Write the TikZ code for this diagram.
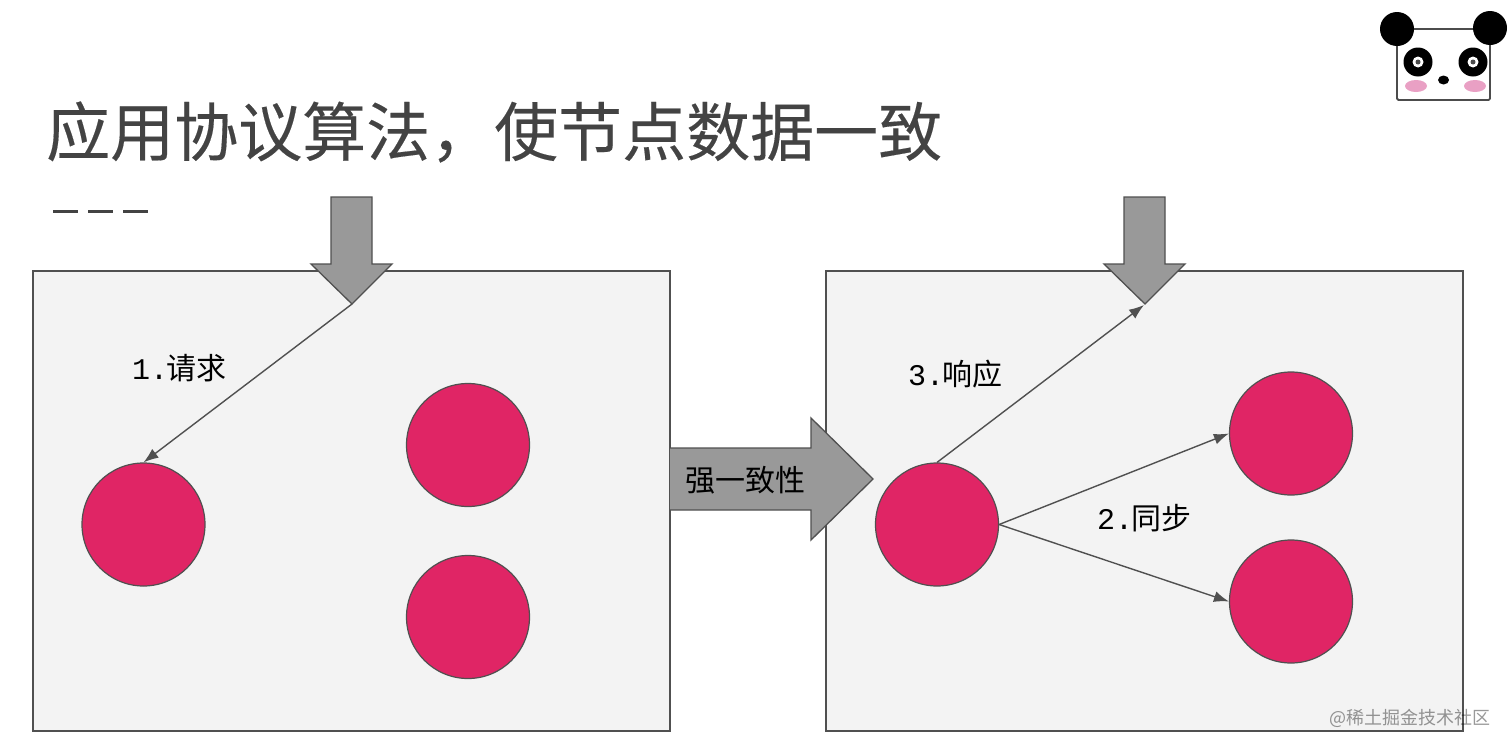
\documentclass[tikz,border=0pt]{standalone}
\usepackage{fontspec}
\setmainfont{Noto Sans CJK SC}
\newfontfamily\cjkfont{Noto Sans CJK SC}
\newfontfamily\titlefont[FakeBold=0.25]{Noto Sans CJK SC}
\setmonofont{Liberation Mono}
\usetikzlibrary{arrows.meta}
\definecolor{nodered}{HTML}{E02565}
\definecolor{panel}{HTML}{F3F3F3}
\definecolor{edgegray}{HTML}{505050}
\definecolor{arrowgray}{HTML}{999999}
\definecolor{titlegray}{HTML}{434343}
\definecolor{cheek}{HTML}{E9A0C4}
\tikzset{
  panelbox/.style={draw=edgegray,fill=panel,line width=1.3pt},
  fatarrow/.style={draw=edgegray,fill=arrowgray,line width=1.3pt,line join=miter},
  peer/.style={circle,draw=edgegray,fill=nodered,line width=1.2pt,minimum size=123pt,inner sep=0pt},
  link/.style={draw=edgegray,line width=1.4pt,-{Latex[length=15pt,width=11pt]}},
  steplabel/.style={inner sep=0pt,font=\fontsize{30pt}{32pt}\selectfont,text=black},
}
\newcommand{\fatdown}[1]{%
  \draw[fatarrow] (#1-21,197) -- (#1+20,197) -- (#1+20,264) -- (#1+40,264) -- (#1,304) -- (#1-41,264) -- (#1-21,264) -- cycle;}
\newcommand{\stepword}[2]{{\ttfamily #1}\kern-2pt{\cjkfont #2}}
\begin{document}
\begin{tikzpicture}[x=1pt,y=-1pt]
\useasboundingbox (0,0) rectangle (1512,750);
\fill[white] (0,0) rectangle (1512,750);
% title
\node[anchor=west,inner sep=0pt,text=titlegray,font=\titlefont\fontsize{64pt}{70pt}\selectfont] (title) at (46,132) {应用协议算法，使节点数据一致};
\foreach \xa in {53,88,123}
  \draw[titlegray,line width=3pt] (\xa,211) -- (\xa+25,211);
% panels
\draw[panelbox] (33,271) rectangle (670,731);
\draw[panelbox] (826,271) rectangle (1463,731);
% arrows
\fatdown{352}
\fatdown{1145}
\draw[fatarrow] (670,448) -- (811,448) -- (811,418) -- (873,479) -- (811,540) -- (811,510) -- (670,510);
\node[inner sep=0pt,font=\fontsize{30pt}{32pt}\selectfont,text=black] (strong) at (745,480) {强一致性};
\coordinate (tipL) at (352,304);
\coordinate (tipR) at (1144,305);
% peers
\node[peer] (a1) at (143.5,524.5) {};
\node[peer] (a2) at (468,445) {};
\node[peer] (a3) at (468,617) {};
\node[peer] (b1) at (937,524.5) {};
\node[peer] (b2) at (1291,433.5) {};
\node[peer] (b3) at (1291,601.5) {};
% links
\draw[link] (tipL) -- (a1.north);
\draw[link] (b1.north) -- (tipR);
\draw[link] (b1.east) -- (b2.west);
\draw[link] (b1.east) -- (b3.west);
% labels
\node[steplabel,anchor=west] (l1) at (132,368) {\stepword{1.}{请求}};
\node[steplabel,anchor=west] (l3) at (908,374) {\stepword{3.}{响应}};
\node[steplabel,anchor=west] (l2) at (1097,518) {\stepword{2.}{同步}};
% panda
\draw[black!70,line width=1.8pt,rounded corners=1.5pt] (1397,29) -- (1490,29) -- (1490,100) -- (1397,100) -- cycle;
\fill[black] (1397,29) circle (17);
\fill[black] (1490,28) circle (17);
\fill[black] (1418,62) circle (14.5);
\fill[black] (1473,62) circle (14.5);
\fill[white] (1418,62) circle (5.5);
\fill[white] (1473,62) circle (5.5);
\fill[black!70] (1418,62) circle (2.5);
\fill[black!70] (1473,62) circle (2.5);
\fill[black] (1443.5,80) ellipse (5.5 and 4.5);
\fill[cheek] (1416,86) ellipse (11 and 6);
\fill[cheek] (1475,86) ellipse (11 and 6);
% watermark
\node[anchor=east,inner sep=0pt,text=black,opacity=0.4,font=\fontsize{18pt}{20pt}\selectfont] (mark) at (1491,718) {@稀土掘金技术社区};
\end{tikzpicture}
\end{document}
